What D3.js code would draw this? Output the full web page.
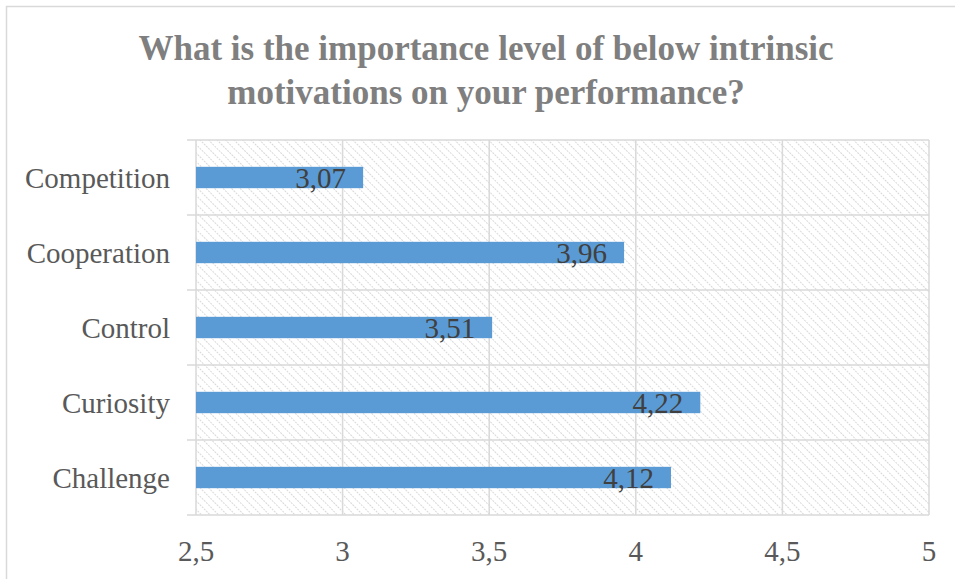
<!DOCTYPE html>
<html><head><meta charset="utf-8">
<script src="https://cdn.jsdelivr.net/npm/d3@7"></script>
<style>body{margin:0;background:#fff}svg{display:block}</style>
</head><body>
<svg id="c" width="955" height="579"></svg>
<script>
const categories = ["Competition","Cooperation","Control","Curiosity","Challenge"];
const values = [3.07, 3.96, 3.51, 4.22, 4.12];
const tickValues = [2.5, 3, 3.5, 4, 4.5, 5];
const titleLines = ["What is the importance level of below intrinsic","motivations on your performance?"];

const svg = d3.select("#c");
const W = 955, H = 579;
const m = {left:196, right:929, top:140, bottom:515};
const font = "'Liberation Serif','Times New Roman',serif";
const fmt = v => String(v).replace(".", ",");

svg.append("path").attr("d", `M6.5,${H} L6.5,6.5 L${W},6.5`).attr("fill","none").attr("stroke","#d9d9d9").attr("stroke-width",1.5);

const defs = svg.append("defs");
const pat = defs.append("pattern").attr("id","hatch").attr("patternUnits","userSpaceOnUse")
  .attr("width",6).attr("height",6).attr("patternTransform","rotate(-45)");
pat.append("rect").attr("width",6).attr("height",6).attr("fill","#fff");
pat.append("line").attr("x1",0).attr("y1",0).attr("x2",0).attr("y2",6).attr("stroke","#d0d0d0").attr("stroke-width",1.6).attr("stroke-dasharray","2,1");

const x = d3.scaleLinear().domain([2.5,5]).range([m.left, m.right]);
const y = d3.scaleBand().domain(categories).range([m.top, m.bottom]).paddingInner(0).paddingOuter(0);
const barH = y.bandwidth()*0.285;

svg.append("rect").attr("x",m.left).attr("y",m.top).attr("width",m.right-m.left).attr("height",m.bottom-m.top).attr("fill","url(#hatch)");

svg.append("g").selectAll("line").data(tickValues).join("line")
  .attr("x1",d=>x(d)).attr("x2",d=>x(d)).attr("y1",m.top).attr("y2",m.bottom)
  .attr("stroke","#d9d9d9").attr("stroke-width",1.5);
const bounds = categories.map(c=>y(c)).concat([m.bottom]);
svg.append("g").selectAll("line").data(bounds).join("line")
  .attr("x1",m.left-9).attr("x2",m.right).attr("y1",d=>d).attr("y2",d=>d)
  .attr("stroke","#d9d9d9").attr("stroke-width",1.5);

svg.append("g").selectAll("rect").data(values).join("rect")
  .attr("x",x(2.5)).attr("y",(d,i)=>y(categories[i])+y.bandwidth()/2-barH/2)
  .attr("width",d=>x(d)-x(2.5)).attr("height",barH).attr("fill","#5b9bd5");

svg.append("g").selectAll("text").data(values).join("text")
  .attr("x",d=>x(d)-17).attr("y",(d,i)=>y(categories[i])+y.bandwidth()/2+10)
  .attr("text-anchor","end").attr("font-family",font).attr("font-size",29).attr("fill","#404040")
  .text(d=>fmt(d));

svg.append("g").selectAll("text").data(categories).join("text")
  .attr("x",170).attr("y",d=>y(d)+y.bandwidth()/2+10)
  .attr("text-anchor","end").attr("font-family",font).attr("font-size",29).attr("fill","#595959")
  .text(d=>d);

svg.append("g").selectAll("text").data(tickValues).join("text")
  .attr("x",d=>x(d)).attr("y",561)
  .attr("text-anchor","middle").attr("font-family",font).attr("font-size",29).attr("fill","#595959")
  .text(d=>fmt(d));

svg.append("g").selectAll("text").data(titleLines).join("text")
  .attr("x",486).attr("y",(d,i)=>60+i*44)
  .attr("text-anchor","middle").attr("font-family",font).attr("font-weight","bold").attr("font-size",35).attr("fill","#7f7f7f")
  .text(d=>d);
</script>
</body></html>
